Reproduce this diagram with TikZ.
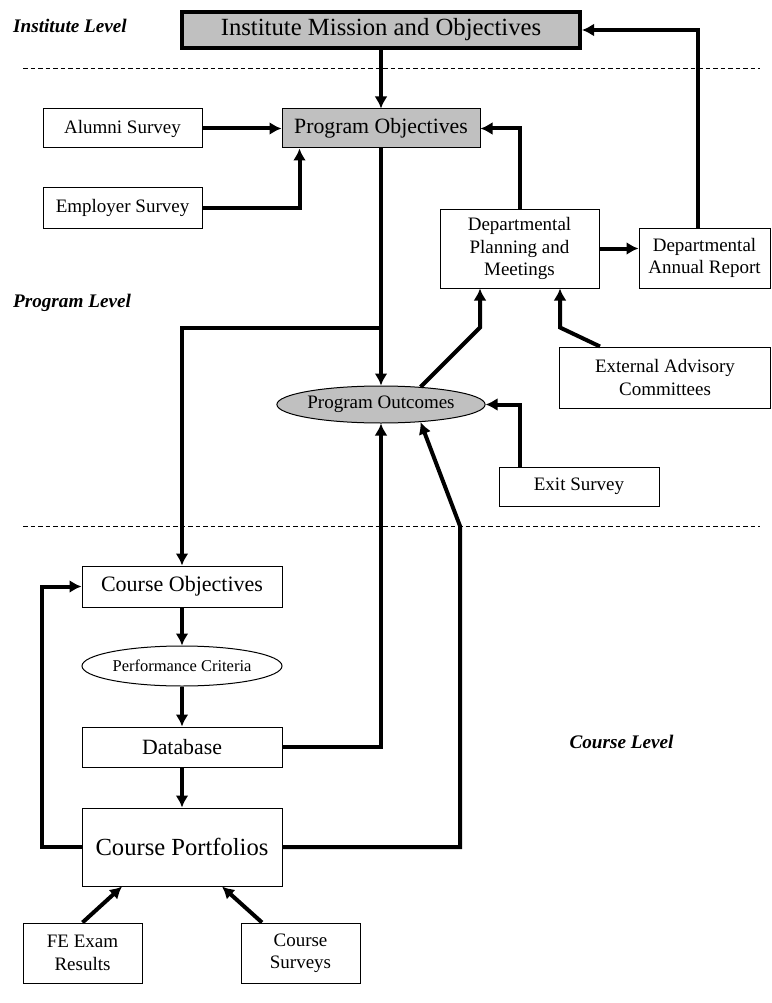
\documentclass[tikz,border=0pt]{standalone}
\usepackage{fontspec}
\setmainfont{Liberation Serif}
\usepackage{tikz}
\usetikzlibrary{positioning}
\usetikzlibrary{shapes.geometric}
\usetikzlibrary{arrows.meta}
\definecolor{boxgray}{RGB}{192,192,192}

\begin{document}
\begin{tikzpicture}[
    x=1pt,y=-1pt,
    node distance=40pt,
    mybox/.style={draw,line width=1pt,inner sep=0pt,align=center,
        font=\fontsize{19}{22.5}\selectfont},
    graybox/.style={mybox,fill=boxgray},
    oval/.style={mybox,ellipse},
    grayoval/.style={oval,fill=boxgray},
    level/.style={font=\fontsize{19.2}{23}\selectfont\bfseries\itshape},
    flow/.style={line width=4pt,-{Latex[length=12pt,width=13pt]}},
    levelline/.style={line width=1pt,dash pattern=on 4.5pt off 3pt}
    ]

    \useasboundingbox (0,0) rectangle (771,1003);

    % levels
    \node[level] (inst) at (70,26) {Institute Level};
    \node[level] (prog) at (72,303) {Program Level};
    \node[level] (course) at (621.5,742) {Course Level};
    \draw[levelline] (23,69) -- (760,69);
    \draw[levelline] (23,526) -- (760,526);

    % institute and program level
    \node[graybox,line width=4pt,minimum width=398pt,minimum height=36pt,
        font=\fontsize{24.7}{28}\selectfont] (mission) at (381,30) {Institute Mission and Objectives};
    \node[graybox,minimum width=198pt,minimum height=39pt,
        font=\fontsize{21.8}{25}\selectfont] (progobj) at (381,128.5) {Program Objectives};
    \node[mybox,minimum width=159pt,minimum height=39pt] (alumni) at (122.5,128.5) {Alumni Survey};
    \node[mybox,minimum width=159pt,minimum height=40pt] (employer) at (122.5,208) {Employer Survey};
    \node[mybox,minimum width=159pt,minimum height=79pt] (planning) at (519.5,248.5) {Departmental\\Planning and\\Meetings};
    \node[mybox,minimum width=131pt,minimum height=60pt] (report) at (704.5,258) {Departmental\\Annual Report};
    \node[mybox,minimum width=211pt,minimum height=61pt] (advisory) at (665,377.5) {External Advisory\\Committees};
    \node[grayoval,minimum width=199pt,minimum height=37pt] (outcomes) at (381,404.5) {Program Outcomes};
    \node[mybox,minimum width=160pt,minimum height=39pt] (exit) at (579,486.5) {Exit Survey};

    % course level
    \node[mybox,minimum width=200pt,minimum height=41pt,
        font=\fontsize{22}{25}\selectfont] (courseobj) at (182,586.5) {Course Objectives};
    \node[oval,below=38pt of courseobj,minimum width=200pt,minimum height=40pt,
        font=\fontsize{16.5}{19}\selectfont] (criteria) {Performance Criteria};
    \node[mybox,below=of criteria,minimum width=200pt,minimum height=40pt,
        font=\fontsize{21.8}{25}\selectfont] (database) {Database};
    \node[mybox,below=of database,minimum width=200pt,minimum height=78pt,
        font=\fontsize{24.6}{28}\selectfont] (portfolio) {Course Portfolios};
    \node[mybox,minimum width=119pt,minimum height=60pt] (feexam) at (82.5,953) {FE Exam\\Results};
    \node[mybox,minimum width=119pt,minimum height=60pt] (surveys) at (300.5,953) {Course\\Surveys};

    \coordinate (split) at (381,328);
    \coordinate (bend) at (460,526);

    \draw[flow] (mission) -- (progobj);
    \draw[flow] (alumni) -- (progobj);
    \draw[flow] (employer.east) -| ([xshift=18pt]progobj.south west);
    \draw[flow] (planning.north) |- (progobj.east);
    \draw[flow] (planning.east) -- (planning.east -| report.west);
    \draw[flow] ([xshift=-6.5pt]report.north) |- (mission.east);
    \draw[flow] (progobj) -- (outcomes);
    \draw[flow] (split) -| (courseobj.north);
    \draw[flow] (outcomes.24) -- ([xshift=-39.5pt,yshift=-39pt]planning.south) -- ([xshift=-39.5pt]planning.south);
    \draw[flow] ([xshift=-65pt]advisory.north) -- ([xshift=40.5pt,yshift=-39pt]planning.south) -- ([xshift=40.5pt]planning.south);
    \draw[flow] ([xshift=-59pt]exit.north) |- (outcomes.east);
    \draw[flow] (database.east) -| (outcomes.south);
    \draw[flow] (portfolio.east) -| (bend) -- (outcomes.-24);
    \draw[flow] (courseobj) -- (criteria);
    \draw[flow] (criteria) -- (database);
    \draw[flow] (database) -- (portfolio);
    \draw[flow] (portfolio.west) -- ++(-40,0) |- (courseobj.west);
    \draw[flow] (feexam.north) -- ([xshift=-60pt]portfolio.south);
    \draw[flow] ([xshift=-38.5pt]surveys.north) -- ([xshift=40pt]portfolio.south);

\end{tikzpicture}
\end{document}
